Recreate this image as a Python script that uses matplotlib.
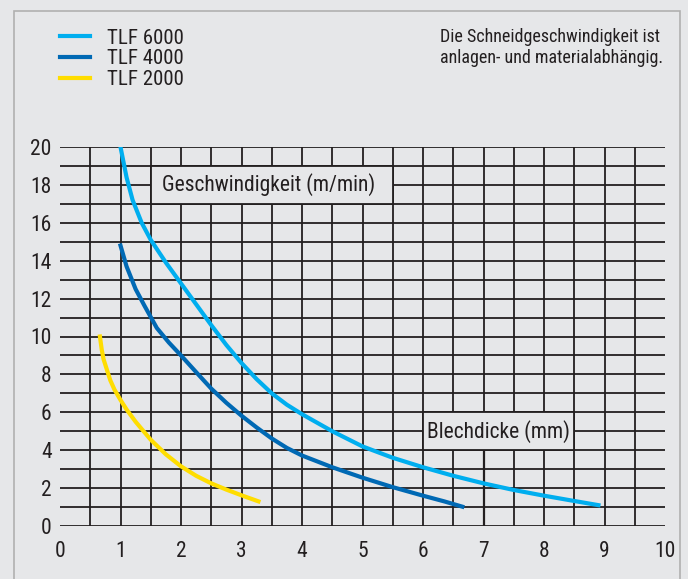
import numpy as np
import matplotlib
matplotlib.use("Agg")
import matplotlib.pyplot as plt
from matplotlib import font_manager
from matplotlib.patches import Rectangle

######################################
# DATA
######################################

x_6000 = [1.0, 1.1, 1.2, 1.35, 1.5, 1.75, 2.0, 2.25, 2.5, 2.75, 3.0, 3.25, 3.5,
          3.75, 4.0, 4.5, 5.0, 5.5, 6.0, 6.5, 7.0, 7.5, 8.0, 8.5, 8.9]
y_6000 = [20.0, 18.4, 17.2, 16.0, 15.1, 13.9, 12.8, 11.7, 10.6, 9.55, 8.6, 7.75, 7.0,
          6.4, 5.9, 5.0, 4.2, 3.6, 3.1, 2.65, 2.25, 1.9, 1.6, 1.32, 1.1]

x_4000 = [1.0, 1.1, 1.25, 1.4, 1.6, 1.8, 2.0, 2.25, 2.5, 2.75, 3.0, 3.25, 3.5,
          3.75, 4.0, 4.5, 5.0, 5.5, 6.0, 6.35, 6.65]
y_4000 = [14.8, 13.7, 12.5, 11.6, 10.45, 9.68, 9.0, 8.12, 7.25, 6.5, 5.82, 5.2, 4.62,
          4.12, 3.72, 3.1, 2.55, 2.05, 1.6, 1.3, 1.02]

x_2000 = [0.66, 0.69, 0.72, 0.83, 0.9, 1.0, 1.1, 1.25, 1.5, 1.75, 2.0, 2.25, 2.5,
          2.75, 3.0, 3.28]
y_2000 = [10.0, 9.3, 8.8, 7.7, 7.2, 6.65, 6.15, 5.5, 4.55, 3.78, 3.15, 2.65, 2.25,
          1.92, 1.62, 1.3]

series_labels = ["TLF 6000", "TLF 4000", "TLF 2000"]
series_colors = ["#00aeef", "#0069b4", "#ffdd00"]

x_ticks = list(range(0, 11))
y_ticks = list(range(0, 21, 2))
x_grid = [v / 2 for v in range(1, 20)]     # 0.5 ... 9.5
y_grid = list(range(0, 21))

note_text = "Die Schneidgeschwindigkeit ist\nanlagen- und materialabhängig."
y_label = "Geschwindigkeit (m/min)"
x_label = "Blechdicke (mm)"

######################################
# FONT: prefer a condensed face
######################################

fonts = font_manager.fontManager.ttflist
names = {f.name for f in fonts}
stretch = "normal"
if "Roboto Condensed" in names:
    family = "Roboto Condensed"
elif "Liberation Sans Narrow" in names:
    family = "Liberation Sans Narrow"
elif any(f.name == "DejaVu Sans" and f.stretch == "condensed" for f in fonts):
    family = "DejaVu Sans"
    stretch = "condensed"
else:
    family = "Roboto"

plt.rcParams["font.family"] = [family, "DejaVu Sans"]
plt.rcParams["font.stretch"] = stretch

######################################
# PLOT
######################################

bg = "#e6e7e9"
ink = "#231f20"

fig = plt.figure(figsize=(6.88, 5.79), dpi=100)
fig.patch.set_facecolor(bg)

# outer frame
fig.add_artist(Rectangle((14 / 688, -0.05), 666 / 688, 1.05 - 11 / 579,
                         transform=fig.transFigure, fill=False,
                         edgecolor="#b0b0b0", linewidth=1.2))

ax = fig.add_axes([60 / 688, 53 / 579, 605 / 688, 379 / 579])
ax.set_facecolor(bg)
ax.set_xlim(0, 10)
ax.set_ylim(0, 20)
for s in ax.spines.values():
    s.set_visible(False)

# grid
for gx in x_grid:
    ax.plot([gx, gx], [0, 20], color=ink, lw=1.3, zorder=1, solid_capstyle="butt")
for gy in y_grid:
    ax.plot([0, 10], [gy, gy], color=ink, lw=1.3, zorder=1, solid_capstyle="butt")
ax.plot([7, 7], [0, 4], color=ink, lw=1.6, zorder=1, solid_capstyle="butt")  # slightly heavier piece in the original

# label boxes sitting in the grid
ax.add_patch(Rectangle((1.5, 17), 4, 2, facecolor=bg, edgecolor=ink, lw=1.3, zorder=2))
ax.text(3.45, 18, y_label, ha="center", va="center", fontsize=15.5, color=ink, zorder=3)
ax.add_patch(Rectangle((6, 4), 2.5, 2, facecolor=bg, edgecolor=ink, lw=1.3, zorder=2))
ax.text(7.25, 5, x_label, ha="center", va="center", fontsize=15.5, color=ink, zorder=3)

# curves
l1, = ax.plot(x_6000, y_6000, color=series_colors[0], lw=3, zorder=4)
l2, = ax.plot(x_4000, y_4000, color=series_colors[1], lw=3, zorder=4)
l3, = ax.plot(x_2000, y_2000, color=series_colors[2], lw=3, zorder=4)

ax.set_xticks(x_ticks)
ax.set_yticks(y_ticks)
ax.tick_params(axis="both", length=0, labelsize=15.5, colors=ink)
ax.tick_params(axis="x", pad=11)
ax.tick_params(axis="y", pad=6)

fig.legend([l1, l2, l3], series_labels, loc="upper left",
           bbox_to_anchor=(60 / 688, 1 - 28.5 / 579), frameon=False, fontsize=15,
           handlelength=1.45, handletextpad=0.8, labelspacing=0.09,
           borderpad=0, borderaxespad=0, labelcolor=ink)

fig.text(440 / 688, 1 - 28.5 / 579, note_text, ha="left", va="top",
         fontsize=13, color=ink, linespacing=1.2)

fig.savefig("out.png", dpi=100, facecolor=bg)
